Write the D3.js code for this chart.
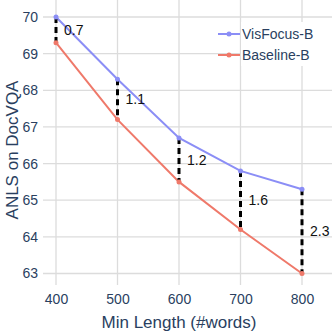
<!DOCTYPE html>
<html><head><meta charset="utf-8">
<script src="https://cdn.jsdelivr.net/npm/d3@7"></script>
<style>body{margin:0;background:#fff}svg{display:block}</style>
</head><body>
<svg id="c" width="332" height="332"></svg>
<script>
const minLength = [400, 500, 600, 700, 800];
const visfocus = [70.0, 68.3, 66.7, 65.8, 65.3];
const baseline = [69.3, 67.2, 65.5, 64.2, 63.0];
const gapLabels = ["0.7", "1.1", "1.2", "1.6", "2.3"];
const yTicks = [63, 64, 65, 66, 67, 68, 69, 70];
const xTicks = [400, 500, 600, 700, 800];
const seriesNames = ["VisFocus-B", "Baseline-B"];
const colors = ["#8b8ef6", "#ef796a"];

const svg = d3.select("#c");
const font = "Liberation Sans, Arial, sans-serif";
const textCol = "#2a3f5f";
const L = 43, R = 332, T = 0, B = 285;
const x = d3.scaleLinear().domain([400, 800]).range([56, 302]);
const y = d3.scaleLinear().domain([63, 70]).range([273.5, 17]);

// grid
svg.append("g").selectAll("line").data(xTicks).join("line")
  .attr("x1", d => x(d)).attr("x2", d => x(d)).attr("y1", T).attr("y2", B)
  .attr("stroke", "#dcdcdc").attr("stroke-width", 1.3);
svg.append("g").selectAll("line").data(yTicks).join("line")
  .attr("x1", L).attr("x2", R).attr("y1", d => y(d)).attr("y2", d => y(d))
  .attr("stroke", "#dcdcdc").attr("stroke-width", 1.3);

// axes tick labels via d3 axes
const yAxis = svg.append("g").attr("transform", `translate(${L},0)`)
  .call(d3.axisLeft(y).tickValues(yTicks).tickFormat(d3.format("d")).tickSize(0).tickPadding(5));
yAxis.select(".domain").remove();
yAxis.selectAll("text").attr("font-family", font).attr("font-size", 14).attr("fill", textCol);
const xAxis = svg.append("g").attr("transform", `translate(0,${B})`)
  .call(d3.axisBottom(x).tickValues(xTicks).tickFormat(d3.format("d")).tickSize(0).tickPadding(9));
xAxis.select(".domain").remove();
xAxis.selectAll("text").attr("font-family", font).attr("font-size", 14).attr("fill", textCol);

// axis titles
svg.append("text").attr("x", 179).attr("y", 328).attr("text-anchor", "middle")
  .attr("font-family", font).attr("font-size", 17).attr("fill", textCol).text("Min Length (#words)");
svg.append("text").attr("transform", "translate(18,150) rotate(-90)").attr("text-anchor", "middle")
  .attr("font-family", font).attr("font-size", 17).attr("fill", textCol).text("ANLS on DocVQA");

// series lines
const line = d3.line().x((d, i) => x(minLength[i])).y(d => y(d));
[visfocus, baseline].forEach((s, k) => {
  svg.append("path").datum(s).attr("d", line).attr("fill", "none")
    .attr("stroke", colors[k]).attr("stroke-width", 2);
});

// dashed gap lines
minLength.forEach((m, i) => {
  svg.append("line").attr("x1", x(m)).attr("x2", x(m))
    .attr("y1", y(visfocus[i])).attr("y2", y(baseline[i]))
    .attr("stroke", "#000").attr("stroke-width", 3).attr("stroke-dasharray", "6,4");
  svg.append("text").attr("x", x(m) + 8).attr("y", (y(visfocus[i]) + y(baseline[i])) / 2 + 5)
    .attr("font-family", font).attr("font-size", 14).attr("fill", "#111").text(gapLabels[i]);
});

// markers
[visfocus, baseline].forEach((s, k) => {
  svg.append("g").selectAll("circle").data(s).join("circle")
    .attr("cx", (d, i) => x(minLength[i])).attr("cy", d => y(d)).attr("r", 2.5)
    .attr("fill", colors[k]);
});

// legend
svg.append("rect").attr("x", 241).attr("y", 22).attr("width", 91).attr("height", 44).attr("fill", "#fff");
seriesNames.forEach((n, k) => {
  const ly = 34 + k * 21;
  svg.append("line").attr("x1", 218).attr("x2", 240).attr("y1", ly).attr("y2", ly)
    .attr("stroke", colors[k]).attr("stroke-width", 2);
  svg.append("circle").attr("cx", 229).attr("cy", ly).attr("r", 2.5).attr("fill", colors[k]);
  svg.append("text").attr("x", 242).attr("y", ly + 5).attr("font-family", font).attr("font-size", 14)
    .attr("fill", textCol).text(n);
});
</script>
</body></html>
